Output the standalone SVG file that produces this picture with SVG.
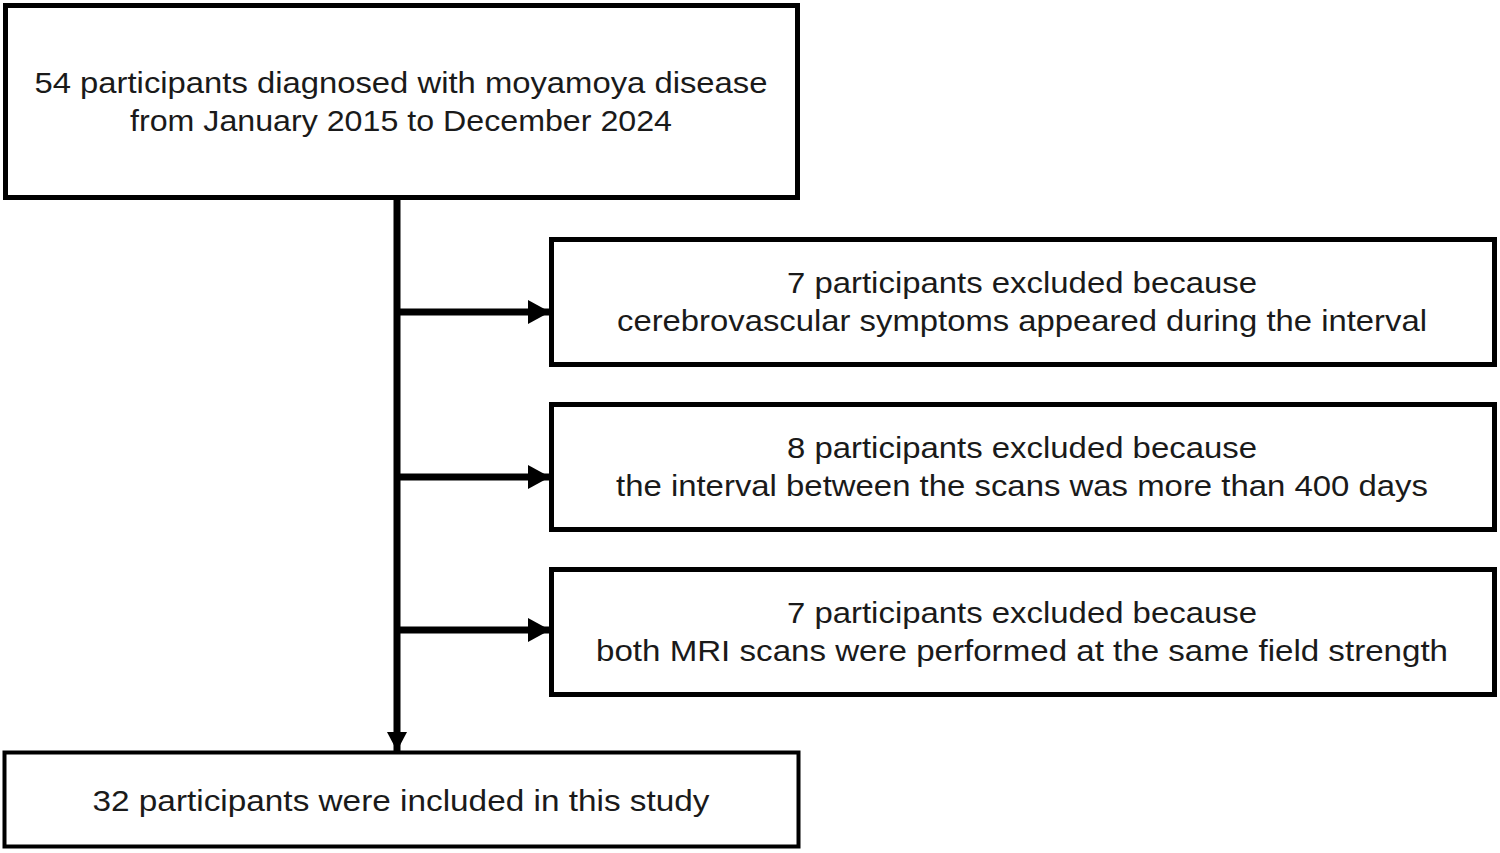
<svg xmlns="http://www.w3.org/2000/svg" width="1500" height="853" viewBox="0 0 1500 853">
<defs>
<style>
.box{fill:#fff;stroke:#000;stroke-width:5}
.t{font-family:"Liberation Sans",Arial,sans-serif;font-size:30px;fill:#1a1a1a;text-anchor:middle}
.ln{stroke:#000;stroke-width:7;fill:none}
</style>
<marker id="ah" markerWidth="22" markerHeight="24" refX="22" refY="12" orient="auto" markerUnits="userSpaceOnUse">
<path d="M0,0 L22,12 L0,24 Z" fill="#000"/>
</marker>
<marker id="ahd" markerWidth="19" markerHeight="20" refX="19" refY="10" orient="auto" markerUnits="userSpaceOnUse">
<path d="M0,0 L19,10 L0,20 Z" fill="#000"/>
</marker>
</defs>
<rect width="1500" height="853" fill="#fff"/>
<g id="connectors">
<line class="ln" x1="397" y1="200" x2="397" y2="751" marker-end="url(#ahd)"/>
<line class="ln" x1="397" y1="312" x2="550" y2="312" marker-end="url(#ah)"/>
<line class="ln" x1="397" y1="477" x2="550" y2="477" marker-end="url(#ah)"/>
<line class="ln" x1="397" y1="630" x2="550" y2="630" marker-end="url(#ah)"/>
</g>
<g id="n1">
<rect class="box" x="5.5" y="5.5" width="792" height="192"/>
<text class="t" x="401" y="93" textLength="733" lengthAdjust="spacingAndGlyphs">54 participants diagnosed with moyamoya disease</text>
<text class="t" x="401" y="131" textLength="542" lengthAdjust="spacingAndGlyphs">from January 2015 to December 2024</text>
</g>
<g id="n2">
<rect class="box" x="551.5" y="239.5" width="943" height="125"/>
<text class="t" x="1022" y="293" textLength="470" lengthAdjust="spacingAndGlyphs">7 participants excluded because</text>
<text class="t" x="1022" y="331" textLength="810" lengthAdjust="spacingAndGlyphs">cerebrovascular symptoms appeared during the interval</text>
</g>
<g id="n3">
<rect class="box" x="551.5" y="404.5" width="943" height="125"/>
<text class="t" x="1022" y="458" textLength="470" lengthAdjust="spacingAndGlyphs">8 participants excluded because</text>
<text class="t" x="1022" y="496" textLength="812" lengthAdjust="spacingAndGlyphs">the interval between the scans was more than 400 days</text>
</g>
<g id="n4">
<rect class="box" x="551.5" y="569.5" width="943" height="125"/>
<text class="t" x="1022" y="623" textLength="470" lengthAdjust="spacingAndGlyphs">7 participants excluded because</text>
<text class="t" x="1022" y="661" textLength="852" lengthAdjust="spacingAndGlyphs">both MRI scans were performed at the same field strength</text>
</g>
<g id="n5">
<rect class="box" x="4.5" y="752.5" width="794" height="94" style="stroke-width:4"/>
<text class="t" x="401" y="811" textLength="617" lengthAdjust="spacingAndGlyphs">32 participants were included in this study</text>
</g>
</svg>
